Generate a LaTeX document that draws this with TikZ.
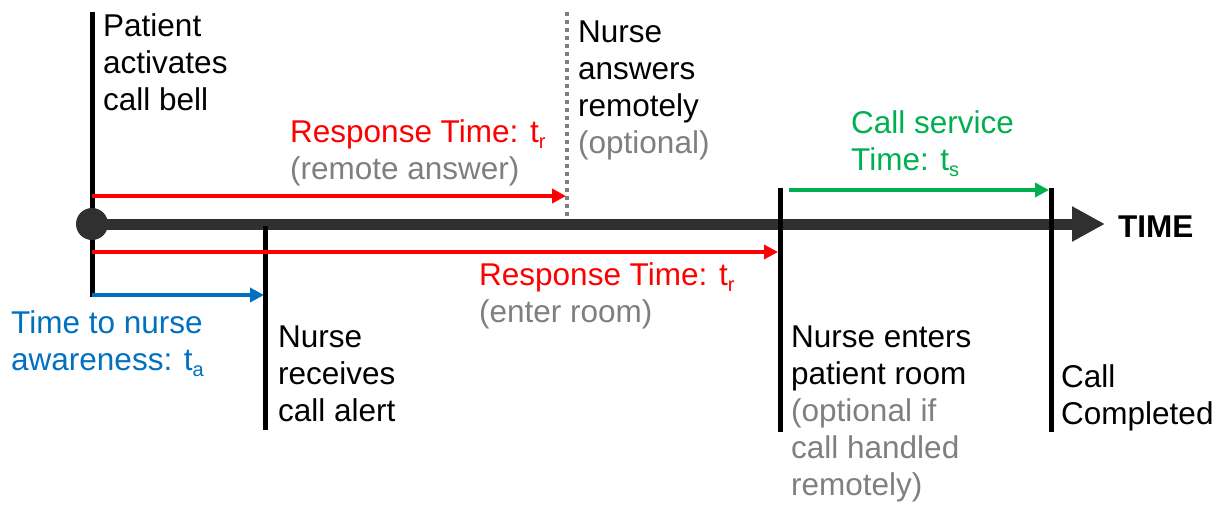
\documentclass[tikz,border=0pt]{standalone}
\usepackage{fontspec}
\setmainfont{Liberation Sans}
\usetikzlibrary{arrows.meta}
\definecolor{cred}{HTML}{FF0000}
\definecolor{cgray}{HTML}{7F7F7F}
\definecolor{cgreen}{HTML}{00B050}
\definecolor{cblue}{HTML}{0070C0}
\definecolor{cdark}{HTML}{303030}
\newcommand\mysub[1]{\raisebox{-6pt}{\fontsize{20}{20}\selectfont #1}}
\begin{document}
\begin{tikzpicture}[x=1pt,y=-1pt,
  lbl/.style={anchor=base west, inner sep=0pt, align=left, font=\fontsize{31.5}{37}\selectfont},
  tick/.style={line width=5pt, black},
  span/.style={line width=4pt, -{Triangle[length=14pt,width=14pt]}},
]
\useasboundingbox (0,0) rectangle (1228,506);
% event coordinates
\coordinate (e0top) at (92,12);
\coordinate (e0bot) at (92,297);
\coordinate (e1top) at (265,226);
\coordinate (e1bot) at (265,430);
\coordinate (e2top) at (567,12);
\coordinate (e2bot) at (567,219);
\coordinate (e3top) at (780,188);
\coordinate (e3bot) at (780,432);
\coordinate (e4top) at (1051,188);
\coordinate (e4bot) at (1051,432);
\coordinate (t0) at (92,224);
\coordinate (tend) at (1105,224);
% first tick behind timeline
\draw[tick] (e0top) -- (e0bot);
% timeline
\draw[line width=11pt, cdark, -{Triangle[length=33pt,width=33pt]}] (t0) -- (tend);
\node[circle, fill=cdark, minimum size=32pt, inner sep=0pt] (start) at (t0) {};
\node[anchor=base west, inner sep=0pt, font=\fontsize{31.5}{37}\selectfont\bfseries] (time) at (1118,237) {TIME};
% ticks
\draw[tick] (e1top) -- (e1bot);
\draw[cgray, line width=4pt, dash pattern=on 4pt off 4pt] (e2top) -- (e2bot);
\draw[tick] (e3top) -- (e3bot);
\draw[tick] (e4top) -- (e4bot);
% spans
\coordinate (r1s) at (92,196);
\coordinate (r1e) at (566,196);
\coordinate (r2s) at (92,252);
\coordinate (r2e) at (778,252);
\coordinate (gs) at (789,190);
\coordinate (ge) at (1049,190);
\coordinate (bs) at (92,295);
\coordinate (be) at (264,295);
\draw[span, cred] (r1s) -- (r1e);
\draw[span, cred] (r2s) -- (r2e);
\draw[span, cgreen] (gs) -- (ge);
\draw[span, cblue] (bs) -- (be);
% labels (anchored at baseline of last line)
\node[lbl] (patient) at (103,110) {Patient\\activates\\call bell};
\node[lbl] (answers) at (578,153) {Nurse\\answers\\remotely\\\textcolor{cgray}{(optional)}};
\node[lbl, cred] (resp1) at (290,179) {Response Time: t\mysub{r}\\\textcolor{cgray}{(remote answer)}};
\node[lbl, cgreen] (svc) at (851,170) {Call service\\Time: t\mysub{s}};
\node[lbl, cred] (resp2) at (479,322) {Response Time: t\mysub{r}\\\textcolor{cgray}{(enter room)}};
\node[lbl, cblue] (aware) at (11,370) {Time to nurse\\awareness: t\mysub{a}};
\node[lbl] (recv) at (278,421) {Nurse\\receives\\call alert};
\node[lbl] (enter) at (791,495) {Nurse enters\\patient room\\\textcolor{cgray}{(optional if}\\\textcolor{cgray}{call handled}\\\textcolor{cgray}{remotely)}};
\node[lbl] (done) at (1061,424) {Call\\Completed};
\end{tikzpicture}
\end{document}
